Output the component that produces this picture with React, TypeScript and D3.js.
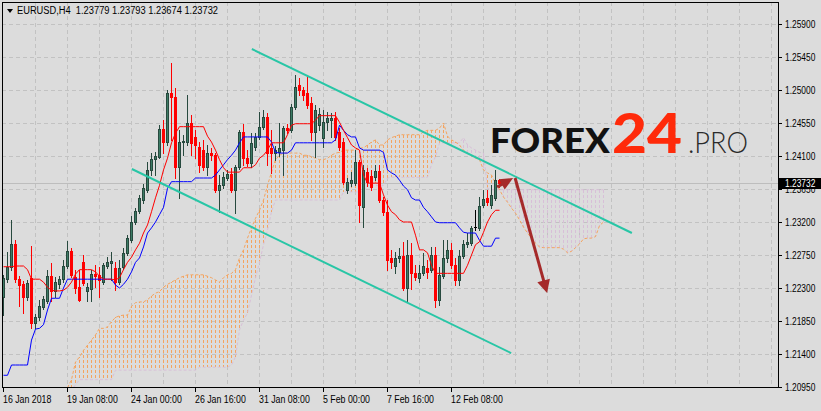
import React from "react";
import * as d3 from "d3";

// ---------- DATA (EURUSD H4) ----------
const OPEN = [
  1.2218, 1.2242, 1.2259, 1.2290, 1.2242, 1.2235, 1.2218, 1.2244, 1.2182, 1.2190,
  1.2204, 1.2212, 1.2246, 1.2226, 1.2235, 1.2242, 1.2260, 1.2280, 1.2245, 1.2231,
  1.2265, 1.2226, 1.2229, 1.2249, 1.2248, 1.2238, 1.2260, 1.2264, 1.2257, 1.2238,
  1.2259, 1.2278, 1.2295, 1.2320, 1.2335, 1.2350, 1.2364, 1.2391, 1.2406, 1.2409,
  1.2447, 1.2429, 1.2496, 1.2490, 1.2395, 1.2429, 1.2429, 1.2455, 1.2436, 1.2422,
  1.2418, 1.2395, 1.2414, 1.2411, 1.2364, 1.2370, 1.2380, 1.2385, 1.2364, 1.2395,
  1.2443, 1.2407, 1.2400, 1.2422, 1.2436, 1.2450, 1.2463, 1.2421, 1.2414, 1.2415,
  1.2418, 1.2448, 1.2445, 1.2477, 1.2507, 1.2500, 1.2496, 1.2482, 1.2443, 1.2452,
  1.2435, 1.2456, 1.2459, 1.2462, 1.2443, 1.2429, 1.2364, 1.2373, 1.2373, 1.2402,
  1.2340, 1.2388, 1.2383, 1.2381, 1.2390, 1.2350, 1.2334, 1.2271, 1.2260, 1.2271,
  1.2274, 1.2230, 1.2275, 1.2250, 1.2244, 1.2250, 1.2257, 1.2255, 1.2275, 1.2214,
  1.2246, 1.2271, 1.2282, 1.2261, 1.2241, 1.2274, 1.2290, 1.2291, 1.2313, 1.2312,
  1.2343, 1.2353, 1.2343, 1.2353, 1.23779,
];
const HIGH = [
  1.2248, 1.2279, 1.2323, 1.2295, 1.2246, 1.2240, 1.2241, 1.2287, 1.2195, 1.2214,
  1.2219, 1.2255, 1.2264, 1.2245, 1.2246, 1.2268, 1.2294, 1.2285, 1.2255, 1.2255,
  1.2275, 1.2237, 1.2255, 1.2261, 1.2259, 1.2264, 1.2272, 1.2279, 1.2265, 1.2268,
  1.2285, 1.2302, 1.2328, 1.2339, 1.2357, 1.2372, 1.2402, 1.2414, 1.2415, 1.2452,
  1.2459, 1.2500, 1.2537, 1.2503, 1.2445, 1.2439, 1.2493, 1.2466, 1.2445, 1.2429,
  1.2432, 1.2425, 1.2421, 1.2414, 1.2384, 1.2388, 1.2391, 1.2394, 1.2398, 1.2445,
  1.2454, 1.2418, 1.2441, 1.2441, 1.2470, 1.2473, 1.2469, 1.2445, 1.2424, 1.2455,
  1.2451, 1.2454, 1.2481, 1.2520, 1.2516, 1.2504, 1.2518, 1.2490, 1.2480, 1.2475,
  1.2473, 1.2470, 1.2468, 1.2470, 1.2448, 1.2435, 1.2380, 1.2388, 1.2418, 1.2405,
  1.2398, 1.2394, 1.2391, 1.2398, 1.2398, 1.2354, 1.2350, 1.2282, 1.2279, 1.2285,
  1.2293, 1.2295, 1.2291, 1.2261, 1.2261, 1.2278, 1.2268, 1.2286, 1.2286, 1.2259,
  1.2295, 1.2295, 1.2291, 1.2271, 1.2282, 1.2295, 1.2305, 1.2315, 1.2336, 1.2354,
  1.2364, 1.2364, 1.2370, 1.2391, 1.23793,
];
const LOW = [
  1.2193, 1.2238, 1.2255, 1.2238, 1.2205, 1.2196, 1.2214, 1.2175, 1.2175, 1.2186,
  1.2201, 1.2210, 1.2212, 1.2218, 1.2230, 1.2238, 1.2257, 1.2245, 1.2223, 1.2212,
  1.2234, 1.2212, 1.2212, 1.2231, 1.2218, 1.2235, 1.2257, 1.2241, 1.2227, 1.2235,
  1.2256, 1.2275, 1.2293, 1.2317, 1.2332, 1.2346, 1.2361, 1.2384, 1.2384, 1.2407,
  1.2414, 1.2425, 1.2432, 1.2380, 1.2353, 1.2411, 1.2425, 1.2411, 1.2407, 1.2388,
  1.2391, 1.2384, 1.2405, 1.2361, 1.2334, 1.2366, 1.2377, 1.2361, 1.2332, 1.2392,
  1.2398, 1.2396, 1.2395, 1.2418, 1.2433, 1.2447, 1.2398, 1.2387, 1.2405, 1.2410,
  1.2384, 1.2441, 1.2443, 1.2474, 1.2493, 1.2486, 1.2475, 1.2432, 1.2409, 1.2445,
  1.2422, 1.2445, 1.2436, 1.2432, 1.2418, 1.2372, 1.2360, 1.2369, 1.2370, 1.2320,
  1.2313, 1.2369, 1.2364, 1.2377, 1.2347, 1.2330, 1.2255, 1.2257, 1.2250, 1.2265,
  1.2227, 1.2211, 1.2229, 1.2241, 1.2238, 1.2248, 1.2244, 1.2252, 1.2204, 1.2207,
  1.2244, 1.2265, 1.2257, 1.2234, 1.2234, 1.2271, 1.2286, 1.2289, 1.2309, 1.2309,
  1.2340, 1.2343, 1.2339, 1.2350, 1.23674,
];
const CLOSE = [
  1.2244, 1.2259, 1.2290, 1.2242, 1.2234, 1.2218, 1.2237, 1.2182, 1.2190, 1.2205,
  1.2215, 1.2246, 1.2226, 1.2238, 1.2242, 1.2260, 1.2280, 1.2248, 1.2230, 1.2214,
  1.2237, 1.2231, 1.2249, 1.2246, 1.2241, 1.2261, 1.2265, 1.2267, 1.2238, 1.2257,
  1.2278, 1.2298, 1.2320, 1.2335, 1.2353, 1.2366, 1.2391, 1.2406, 1.2410, 1.2447,
  1.2429, 1.2496, 1.2490, 1.2395, 1.2429, 1.2430, 1.2455, 1.2428, 1.2425, 1.2398,
  1.2395, 1.2414, 1.2411, 1.2364, 1.2370, 1.2381, 1.2385, 1.2364, 1.2395, 1.2443,
  1.2407, 1.2400, 1.2428, 1.2436, 1.2450, 1.2463, 1.2414, 1.2414, 1.2418, 1.2421,
  1.2448, 1.2445, 1.2477, 1.2504, 1.2500, 1.2493, 1.2480, 1.2443, 1.2473, 1.2467,
  1.2456, 1.2462, 1.2462, 1.2436, 1.2422, 1.2375, 1.2375, 1.2377, 1.2402, 1.2343,
  1.2391, 1.2375, 1.2368, 1.2390, 1.2350, 1.2334, 1.2268, 1.2265, 1.2271, 1.2274,
  1.2230, 1.2275, 1.2250, 1.2245, 1.2250, 1.2260, 1.2252, 1.2275, 1.2214, 1.2248,
  1.2271, 1.2282, 1.2261, 1.2241, 1.2274, 1.2290, 1.2293, 1.2312, 1.2313, 1.2342,
  1.2351, 1.2347, 1.2357, 1.2377, 1.23732,
];

// Ichimoku: Tenkan-sen (red), Kijun-sen (blue)
const TENKAN = [
  1.2259, 1.2259, 1.2259, 1.2260, 1.2260, 1.2260, 1.2255, 1.2242, 1.2242, 1.2242,
  1.2238, 1.2231, 1.2227, 1.2226, 1.2226, 1.2227, 1.2231, 1.2238, 1.2249, 1.2255,
  1.2255, 1.2255, 1.2255, 1.2252, 1.2246, 1.2242, 1.2242, 1.2242, 1.2241, 1.2244,
  1.2255, 1.2265, 1.2272, 1.2282, 1.2291, 1.2305, 1.2316, 1.2334, 1.2353, 1.2370,
  1.2391, 1.2407, 1.2428, 1.2441, 1.2450, 1.2450, 1.2450, 1.2450, 1.2450, 1.2450,
  1.2450, 1.2437, 1.2429, 1.2418, 1.2405, 1.2394, 1.2388, 1.2388, 1.2388, 1.2388,
  1.2394, 1.2394, 1.2394, 1.2398, 1.2407, 1.2411, 1.2418, 1.2428, 1.2428, 1.2428,
  1.2428, 1.2439, 1.2452, 1.2454, 1.2454, 1.2454, 1.2454, 1.2454, 1.2459, 1.2465,
  1.2465, 1.2465, 1.2465, 1.2465, 1.2456, 1.2445, 1.2435, 1.2425, 1.2421, 1.2418,
  1.2384, 1.2373, 1.2373, 1.2373, 1.2373, 1.2357, 1.2343, 1.2334, 1.2330, 1.2323,
  1.2320, 1.2320, 1.2320, 1.2302, 1.2282, 1.2282, 1.2278, 1.2261, 1.2250, 1.2250,
  1.2250, 1.2250, 1.2250, 1.2250, 1.2250, 1.2250, 1.2261, 1.2275, 1.2289, 1.2293,
  1.2306, 1.2320, 1.2330, 1.2336, 1.2336,
];
const KIJUN = [
  1.2111, 1.2111, 1.2125, 1.2125, 1.2125, 1.2125, 1.2125, 1.2159, 1.2174, 1.2175,
  1.2180, 1.2200, 1.2216, 1.2216, 1.2216, 1.2230, 1.2242, 1.2242, 1.2242, 1.2242,
  1.2242, 1.2242, 1.2242, 1.2242, 1.2242, 1.2242, 1.2242, 1.2242, 1.2234, 1.2230,
  1.2235, 1.2242, 1.2252, 1.2265, 1.2271, 1.2286, 1.2305, 1.2312, 1.2320, 1.2330,
  1.2340, 1.2366, 1.2375, 1.2375, 1.2375, 1.2375, 1.2375, 1.2375, 1.2380, 1.2380,
  1.2380, 1.2380, 1.2380, 1.2384, 1.2391, 1.2398, 1.2405, 1.2411, 1.2418, 1.2428,
  1.2436, 1.2436, 1.2436, 1.2436, 1.2436, 1.2436, 1.2436, 1.2429, 1.2415, 1.2414,
  1.2414, 1.2414, 1.2418, 1.2428, 1.2428, 1.2428, 1.2428, 1.2428, 1.2428, 1.2428,
  1.2428, 1.2428, 1.2428, 1.2432, 1.2452, 1.2445, 1.2439, 1.2436, 1.2436, 1.2421,
  1.2418, 1.2418, 1.2418, 1.2418, 1.2418, 1.2415, 1.2391, 1.2387, 1.2384, 1.2377,
  1.2369, 1.2364, 1.2353, 1.2350, 1.2350, 1.2340, 1.2334, 1.2327, 1.2320, 1.2319,
  1.2319, 1.2319, 1.2319, 1.2319, 1.2312, 1.2306, 1.2305, 1.2305, 1.2305, 1.2295,
  1.2287, 1.2287, 1.2287, 1.2298, 1.2298,
];

// Kumo (cloud), first value belongs to bar CLOUD_START, runs 26 bars past the last candle
const CLOUD_START = 16;
const SPAN_A = [
  1.2094, 1.2105, 1.2129, 1.2136, 1.2145, 1.2152, 1.2159, 1.2166, 1.2175, 1.2175,
  1.2177, 1.2184, 1.2190, 1.2192, 1.2193, 1.2193, 1.2205, 1.2210, 1.2211, 1.2211,
  1.2214, 1.2219, 1.2223, 1.2225, 1.2231, 1.2235, 1.2238, 1.2241, 1.2244, 1.2246,
  1.2248, 1.2248, 1.2248, 1.2248, 1.2248, 1.2246, 1.2244, 1.2241, 1.2238, 1.2244,
  1.2248, 1.2250, 1.2255, 1.2271, 1.2282, 1.2298, 1.2312, 1.2325, 1.2336, 1.2350,
  1.2370, 1.2388, 1.2405, 1.2411, 1.2414, 1.2414, 1.2414, 1.2414, 1.2414, 1.2411,
  1.2411, 1.2409, 1.2407, 1.2405, 1.2405, 1.2407, 1.2411, 1.2414, 1.2415, 1.2418,
  1.2418, 1.2418, 1.2418, 1.2421, 1.2421, 1.2425, 1.2429, 1.2432, 1.2425, 1.2425,
  1.2432, 1.2435, 1.2437, 1.2439, 1.2439, 1.2439, 1.2439, 1.2439, 1.2439, 1.2443,
  1.2445, 1.2445, 1.2445, 1.2448, 1.2455, 1.2437, 1.2432, 1.2429, 1.2425, 1.2418,
  1.2414, 1.2410, 1.2407, 1.2405, 1.2391, 1.2387, 1.2384, 1.2373, 1.2364, 1.2354,
  1.2347, 1.2339, 1.2332, 1.2323, 1.2313, 1.2305, 1.2298, 1.2291, 1.2286, 1.2285,
  1.2285, 1.2285, 1.2285, 1.2285, 1.2283, 1.2278, 1.2280, 1.2285, 1.2290, 1.2297,
  1.2298, 1.2298, 1.2300, 1.2315, 1.2320,
];
const SPAN_B = [
  1.2084, 1.2091, 1.2098, 1.2105, 1.2105, 1.2105, 1.2105, 1.2105, 1.2105, 1.2105,
  1.2105, 1.2105, 1.2118, 1.2118, 1.2118, 1.2118, 1.2118, 1.2118, 1.2118, 1.2118,
  1.2118, 1.2118, 1.2118, 1.2118, 1.2118, 1.2118, 1.2118, 1.2118, 1.2118, 1.2118,
  1.2118, 1.2118, 1.2118, 1.2122, 1.2122, 1.2122, 1.2122, 1.2122, 1.2122, 1.2122,
  1.2122, 1.2125, 1.2136, 1.2173, 1.2186, 1.2196, 1.2220, 1.2244, 1.2265, 1.2289,
  1.2309, 1.2334, 1.2350, 1.2350, 1.2350, 1.2350, 1.2350, 1.2350, 1.2350, 1.2350,
  1.2350, 1.2350, 1.2350, 1.2350, 1.2350, 1.2350, 1.2350, 1.2350, 1.2350, 1.2361,
  1.2361, 1.2361, 1.2361, 1.2361, 1.2361, 1.2370, 1.2370, 1.2370, 1.2370, 1.2370,
  1.2380, 1.2381, 1.2381, 1.2381, 1.2381, 1.2381, 1.2381, 1.2381, 1.2381, 1.2381,
  1.2381, 1.2398, 1.2409, 1.2428, 1.2428, 1.2428, 1.2428, 1.2428, 1.2428, 1.2435,
  1.2425, 1.2421, 1.2418, 1.2415, 1.2414, 1.2366, 1.2364, 1.2364, 1.2364, 1.2364,
  1.2364, 1.2364, 1.2364, 1.2364, 1.2364, 1.2364, 1.2364, 1.2364, 1.2364, 1.2364,
  1.2364, 1.2364, 1.2364, 1.2364, 1.2364, 1.2364, 1.2364, 1.2364, 1.2364, 1.2364,
  1.2364, 1.2364, 1.2364, 1.2364, 1.2364,
];

const PRICE_TICKS = [1.259, 1.2545, 1.25, 1.2455, 1.241, 1.2365, 1.232, 1.2275, 1.223, 1.2185, 1.214, 1.2095];
const TIME_LABEL_BARS = [0, 16, 32, 48, 64, 80, 96, 112];
const TIME_LABELS = ["16 Jan 2018", "19 Jan 08:00", "24 Jan 00:00", "26 Jan 16:00", "31 Jan 08:00", "5 Feb 00:00", "7 Feb 16:00", "12 Feb 08:00"];
const TOTAL_BARS = 194;
const LAST_PRICE = 1.23732;
const SYMBOL_TITLE = "EURUSD,H4  1.23779 1.23793 1.23674 1.23732";

// analyst drawings, in [bar, price]
const CHANNEL_LINES = [
  [[62.1, 1.25559], [157.1, 1.2305]],
  [[32.1, 1.23923], [126.9, 1.21413]],
];
const ARROWS = [
  { from: [123.4, 1.23677], to: [127.4, 1.238], head: 13, width: 12 },
  { from: [127.9, 1.238], to: [135.9, 1.22232], head: 13, width: 13 },
];

// ---------- STYLE ----------
const BG = "#DCDCDC";
const GRID = "#C2C2C2";
const UI_FONT = "'Liberation Sans', Arial, sans-serif";
const BULL_FILL = "#3C7B64";
const BULL_EDGE = "#27493E";
const BEAR = "#FF0000";

function UIText({ x, y, children, fill = "#000", sx = 0.86 }: any) {
  return (
    <text transform={`translate(${x},${y}) scale(${sx},1)`} fontFamily={UI_FONT} fontSize={10} fill={fill}>
      {children}
    </text>
  );
}

export default function App() {
  const W = 821, H = 411;
  const L = 2, T = 2, R = 778, B = 387;

  const x = d3.scaleLinear().domain([0, 1]).range([3.5, 7.5]);
  const y = d3.scaleLinear().domain([PRICE_TICKS[PRICE_TICKS.length - 1], PRICE_TICKS[0]]).range([B, 24]);
  const ry = (p: number) => Math.round(y(p));

  const lineIdx = (offset: number) =>
    d3.line<number>().x((_, i) => x(i + offset)).y((d) => y(d));

  const tenkanPath = lineIdx(0)(TENKAN) || "";
  const kijunPath = lineIdx(0)(KIJUN) || "";
  const spanAPath = lineIdx(CLOUD_START)(SPAN_A) || "";
  const spanBPath = lineIdx(CLOUD_START)(SPAN_B) || "";

  const vGrid = d3.range(8, TOTAL_BARS, 8);

  const arrowShapes = ARROWS.map((a) => {
    const x1 = x(a.from[0]), y1 = y(a.from[1]);
    const x2 = x(a.to[0]), y2 = y(a.to[1]);
    const len = Math.hypot(x2 - x1, y2 - y1);
    const ux = (x2 - x1) / len, uy = (y2 - y1) / len;
    const px = -uy, py = ux;
    const bx = x2 - ux * a.head, by = y2 - uy * a.head;
    const tri = [
      [x2, y2],
      [bx + px * a.width / 2, by + py * a.width / 2],
      [bx - px * a.width / 2, by - py * a.width / 2],
    ];
    return { x1, y1, sx: bx + ux * 2, sy: by + uy * 2, tri };
  });

  return (
    <svg
      width={W}
      height={H}
      viewBox={`0 0 ${W} ${H}`}
      style={{ position: "fixed", left: 0, top: 0, display: "block" }}
    >
      <defs>
        <clipPath id="plot">
          <rect x={L} y={T} width={R - L} height={B - T} />
        </clipPath>
      </defs>
      <rect x={0} y={0} width={W} height={H} fill={BG} />

      <g clipPath="url(#plot)">
        {/* grid */}
        <g stroke={GRID} strokeWidth={1} strokeDasharray="4 3" shapeRendering="crispEdges">
          {PRICE_TICKS.slice(0, -1).map((p) => (
            <line key={"h" + p} x1={L} x2={R} y1={ry(p) + 0.5} y2={ry(p) + 0.5} />
          ))}
          {vGrid.map((b) => (
            <line key={"v" + b} x1={x(b)} x2={x(b)} y1={T} y2={B} />
          ))}
        </g>

        {/* bid line */}
        <line x1={L} x2={R} y1={ry(LAST_PRICE) + 0.5} y2={ry(LAST_PRICE) + 0.5} stroke="#BDBDBD" strokeWidth={1} shapeRendering="crispEdges" />

        {/* cloud hatch */}
        <g strokeWidth={1} shapeRendering="crispEdges">
          {SPAN_A.map((a, k) => {
            const b = SPAN_B[k];
            const ya = ry(a), yb = ry(b);
            const top = Math.min(ya, yb), bot = Math.max(ya, yb);
            const color = a >= b ? "#F4A460" : "#D8BFD8";
            return (
              <line
                key={"c" + k}
                x1={x(k + CLOUD_START)}
                x2={x(k + CLOUD_START)}
                y1={top}
                y2={bot}
                stroke={color}
                strokeDasharray="3 2"
                strokeDashoffset={top % 5}
              />
            );
          })}
        </g>
        <path d={spanBPath} fill="none" stroke="#D8BFD8" strokeWidth={1} strokeDasharray="3 2" />
        <path d={spanAPath} fill="none" stroke="#F4A460" strokeWidth={1} strokeDasharray="3 2" />

        {/* candles */}
        <g shapeRendering="crispEdges">
          {OPEN.map((o, i) => {
            const c = CLOSE[i], h = HIGH[i], l = LOW[i];
            const cx = x(i);
            const top = ry(Math.max(o, c)), bot = ry(Math.min(o, c));
            const yh = ry(h), yl = ry(l);
            if (o === c) {
              return (
                <g key={i} stroke="#000">
                  <line x1={cx} x2={cx} y1={yh} y2={yl + 1} />
                  <line x1={cx - 1.5} x2={cx + 1.5} y1={top + 0.5} y2={top + 0.5} />
                </g>
              );
            }
            if (c > o) {
              return (
                <g key={i}>
                  <line x1={cx} x2={cx} y1={yh} y2={yl + 1} stroke={BULL_EDGE} />
                  <rect x={cx - 1} y={top + 0.5} width={2} height={Math.max(bot - top, 1)} fill={BULL_FILL} stroke={BULL_EDGE} strokeWidth={1} />
                </g>
              );
            }
            return (
              <g key={i}>
                <line x1={cx} x2={cx} y1={yh} y2={yl + 1} stroke={BEAR} />
                <rect x={cx - 1.5} y={top} width={3} height={Math.max(bot - top + 1, 1)} fill={BEAR} />
              </g>
            );
          })}
        </g>

        {/* tenkan / kijun */}
        <path d={kijunPath} fill="none" stroke="#0000FF" strokeWidth={1} />
        <path d={tenkanPath} fill="none" stroke="#FF0000" strokeWidth={1} />

        {/* channel */}
        {CHANNEL_LINES.map((ln, k) => (
          <line
            key={"ch" + k}
            x1={x(ln[0][0])}
            y1={y(ln[0][1])}
            x2={x(ln[1][0])}
            y2={y(ln[1][1])}
            stroke="#28C6A6"
            strokeWidth={2}
          />
        ))}

        {/* arrows */}
        {arrowShapes.map((a, k) => (
          <g key={"ar" + k}>
            <line x1={a.x1} y1={a.y1} x2={a.sx} y2={a.sy} stroke="#A52A2A" strokeWidth={3} />
            <polygon points={a.tri.map((p) => p.join(",")).join(" ")} fill="#A52A2A" />
          </g>
        ))}
      </g>

      {/* frame */}
      <rect x={L + 0.5} y={T + 0.5} width={R - L} height={B - T} fill="none" stroke="#000" strokeWidth={1} shapeRendering="crispEdges" />

      {/* price axis */}
      <g shapeRendering="crispEdges">
        {PRICE_TICKS.map((p) => (
          <line key={"pt" + p} x1={R} x2={R + 4} y1={ry(p) + 0.5} y2={ry(p) + 0.5} stroke="#000" />
        ))}
      </g>
      {PRICE_TICKS.map((p) => (
        <UIText key={"pl" + p} x={785} y={y(p) + 3.6} sx={0.84}>
          {p.toFixed(5)}
        </UIText>
      ))}
      <rect x={779} y={ry(LAST_PRICE) - 5} width={42} height={11} fill="#000" />
      <UIText x={785} y={y(LAST_PRICE) + 3.6} fill="#FFF" sx={0.84}>
        {LAST_PRICE.toFixed(5)}
      </UIText>

      {/* time axis */}
      <g shapeRendering="crispEdges">
        {TIME_LABEL_BARS.map((b) => (
          <line key={"tt" + b} x1={x(b) - 0.5} x2={x(b) - 0.5} y1={B} y2={B + 5} stroke="#000" />
        ))}
      </g>
      {TIME_LABEL_BARS.map((b, k) => (
        <UIText key={"tl" + b} x={x(b) - 0.5} y={403} sx={0.88}>
          {TIME_LABELS[k]}
        </UIText>
      ))}

      {/* title */}
      <polygon points="7,9 13,9 10,13" fill="#000" />
      <text x={17} y={14} fontFamily={UI_FONT} fontSize={10} fill="#000" textLength={201} lengthAdjust="spacingAndGlyphs" xmlSpace="preserve">
        {SYMBOL_TITLE}
      </text>

      {/* watermark logo */}
      <g>
        <text x={490} y={153} fontFamily="Lato, 'Open Sans', sans-serif" fontWeight={900} fontSize={35} fill="#111" textLength={120} lengthAdjust="spacingAndGlyphs">
          FOREX
        </text>
        <text x={612} y={153} fontFamily="Lato, 'Open Sans', sans-serif" fontWeight={900} fontSize={56} fill="#FF2A0A" textLength={70} lengthAdjust="spacingAndGlyphs">
          24
        </text>
        <text x={688} y={153} fontFamily="Lato, 'Open Sans', sans-serif" fontWeight={300} fontSize={29} fill="#2A2A2A" textLength={60} lengthAdjust="spacingAndGlyphs">
          .PRO
        </text>
      </g>
    </svg>
  );
}
